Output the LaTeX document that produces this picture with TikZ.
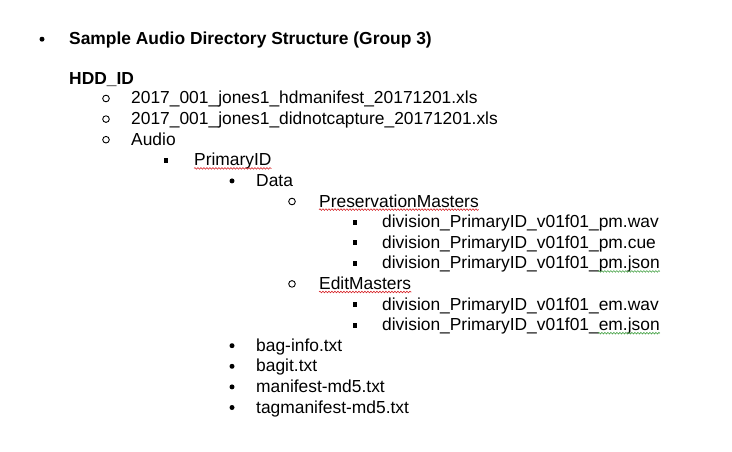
\documentclass[tikz,border=0pt]{standalone}
\usepackage{fontspec}
\setmainfont{Liberation Sans}
\usetikzlibrary{decorations.pathmorphing}
\definecolor{ink}{HTML}{000000}
\definecolor{spellred}{HTML}{D8262B}
\definecolor{gramgreen}{HTML}{3E9E3E}
\tikzset{
  %% list text
  entry/.style   = {anchor=base west, inner sep=0pt, text=ink,
                    font=\fontsize{17.4}{20}\selectfont},
  head/.style    = {entry, font=\fontsize{17.4}{20}\selectfont\bfseries},
  %% bullets
  dotmark/.style  = {circle, fill=ink, inner sep=0pt, minimum size=5pt},
  ringmark/.style = {circle, draw=ink, line width=0.9pt, inner sep=0pt, minimum size=6.6pt},
  sqmark/.style   = {rectangle, fill=ink, inner sep=0pt, minimum size=4.8pt},
  %% spell-check marks
  squig/.style   = {decorate, decoration={snake, amplitude=0.8pt, segment length=3pt},
                    line width=0.6pt},
}

\begin{document}
\begin{tikzpicture}[x=1pt, y=-1pt]
\useasboundingbox[fill=white] (0,0) rectangle (732,452);

%% ============ heading ============
\node[dotmark] (b0) at (42,39.2) {};
\node[head] (title) at (69,44.7) {Sample Audio Directory Structure (Group 3)};
\node[head] (hdd) at (69,84.5) {HDD\_ID};

%% ============ HDD_ID level ============
\node[ringmark] (r1) at (106,98.5) {};
\node[entry] (hdman) at (131,104) {2017\_001\_jones1\_hdmanifest\_20171201.xls};
\node[ringmark] (r2) at (106,119.1) {};
\node[entry] (dnc) at (131,124.6) {2017\_001\_jones1\_didnotcapture\_20171201.xls};
\node[ringmark] (r3) at (106,139.7) {};
\node[entry] (audio) at (131,145.2) {Audio};

%% ============ Audio / PrimaryID ============
\node[sqmark] (s1) at (166,160.3) {};
\node[entry] (prim) at (194,165.8) {PrimaryID};
\node[dotmark] (d1) at (232,180.9) {};
\node[entry] (data) at (256,186.4) {Data};

%% ============ PreservationMasters ============
\node[ringmark] (r4) at (292,201.5) {};
\node[entry] (pres) at (319,207) {PreservationMasters};
\node[sqmark] (s2) at (355,222.1) {};
\node[entry] (pmwav) at (382,227.6) {division\_PrimaryID\_v01f01\_pm.wav};
\node[sqmark] (s3) at (355,242.7) {};
\node[entry] (pmcue) at (382,248.2) {division\_PrimaryID\_v01f01\_pm.cue};
\node[sqmark] (s4) at (355,263.3) {};
\node[entry] (pmjson) at (382,268.8) {division\_PrimaryID\_v01f01\_pm.json};

%% ============ EditMasters ============
\node[ringmark] (r5) at (292,283.9) {};
\node[entry] (edit) at (319,289.4) {EditMasters};
\node[sqmark] (s5) at (355,304.5) {};
\node[entry] (emwav) at (382,310) {division\_PrimaryID\_v01f01\_em.wav};
\node[sqmark] (s6) at (355,325.1) {};
\node[entry] (emjson) at (382,330.6) {division\_PrimaryID\_v01f01\_em.json};

%% ============ bag files ============
\node[dotmark] (d2) at (232,345.7) {};
\node[entry] (baginfo) at (256,351.2) {bag-info.txt};
\node[dotmark] (d3) at (232,366.3) {};
\node[entry] (bagit) at (256,371.8) {bagit.txt};
\node[dotmark] (d4) at (232,386.9) {};
\node[entry] (man) at (256,392.4) {manifest-md5.txt};
\node[dotmark] (d5) at (232,407.5) {};
\node[entry] (tagman) at (256,413) {tagmanifest-md5.txt};

%% ============ spell-check underlines ============
\draw[squig, spellred] ([yshift=-2.6pt]prim.base west) -- ([yshift=-2.6pt]prim.base east);
\draw[squig, spellred] ([yshift=-2.6pt]pres.base west) -- ([yshift=-2.6pt]pres.base east);
\draw[squig, spellred] ([yshift=-2.6pt]edit.base west) -- ([yshift=-2.6pt]edit.base east);
\draw[squig, gramgreen] ([xshift=-62pt,yshift=-2.6pt]pmjson.base east) -- ([yshift=-2.6pt]pmjson.base east);
\draw[squig, gramgreen] ([xshift=-62pt,yshift=-2.6pt]emjson.base east) -- ([yshift=-2.6pt]emjson.base east);

\end{tikzpicture}
\end{document}
